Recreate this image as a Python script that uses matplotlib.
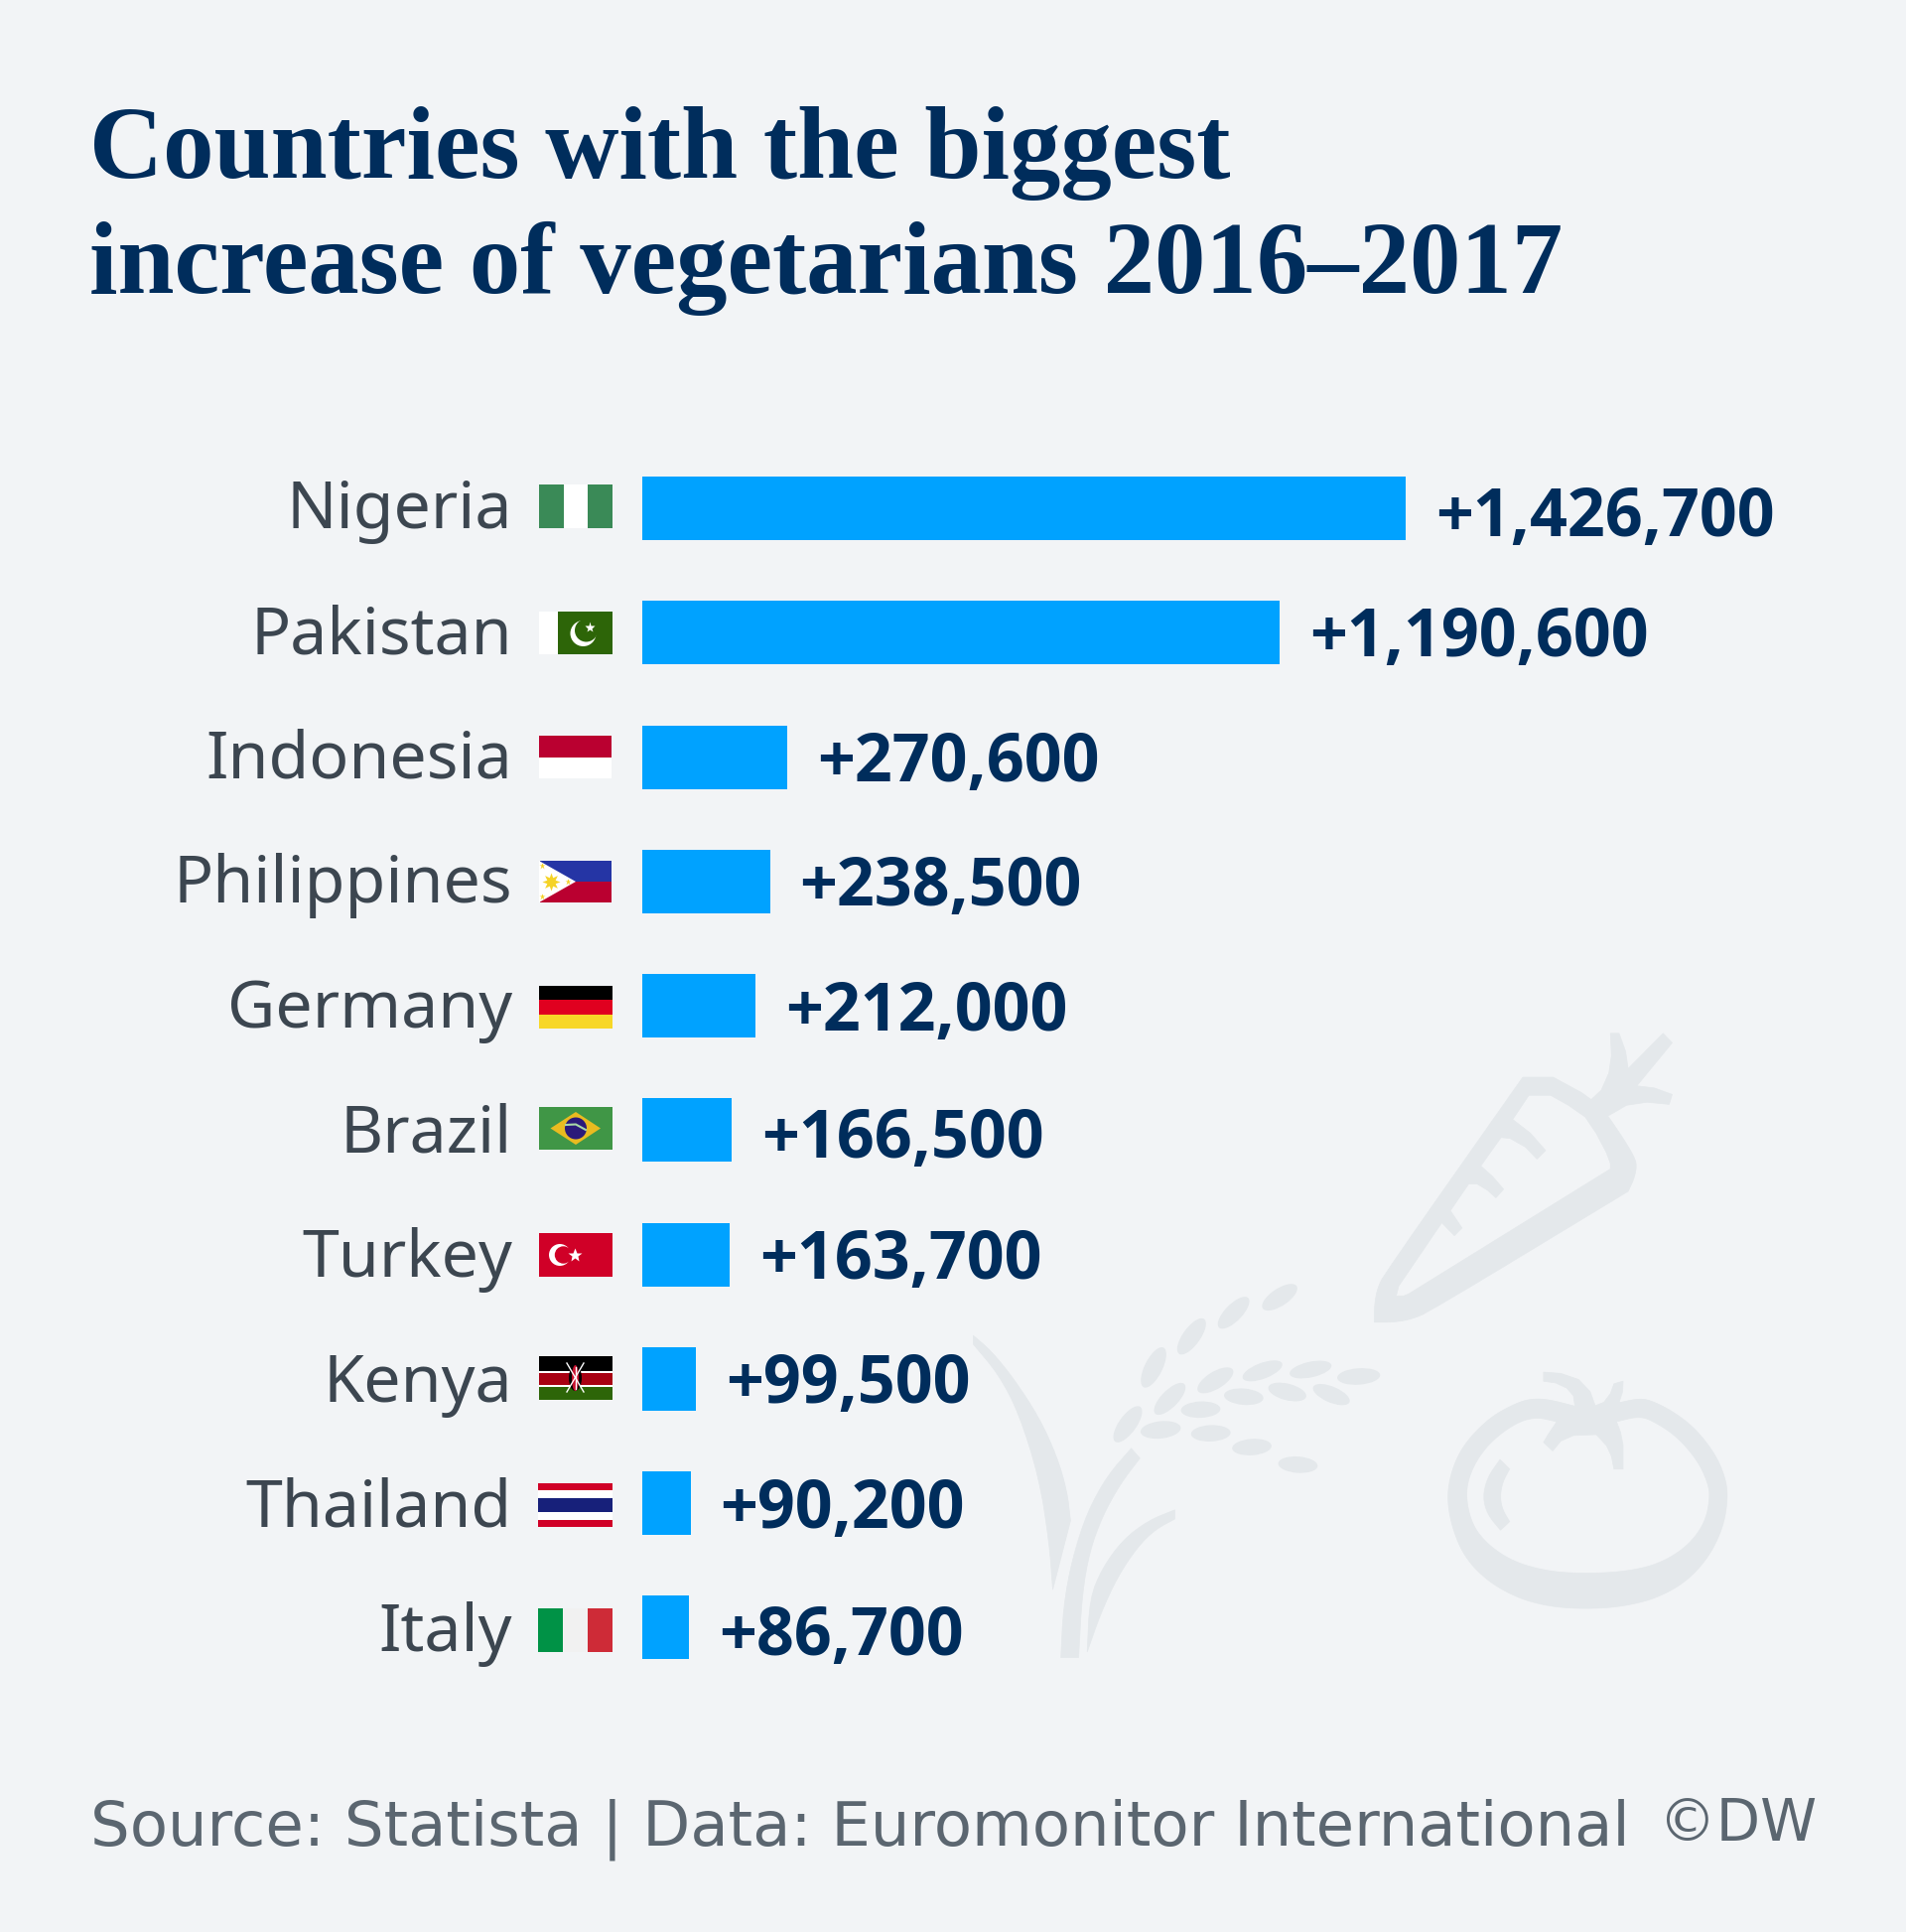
import matplotlib
matplotlib.use("Agg")
import matplotlib.pyplot as plt
from matplotlib.patches import Circle, Ellipse, PathPatch, Polygon, Rectangle
from matplotlib.path import Path
from matplotlib.transforms import Affine2D

countries = ["Nigeria", "Pakistan", "Indonesia", "Philippines", "Germany",
             "Brazil", "Turkey", "Kenya", "Thailand", "Italy"]
increase = [1426700, 1190600, 270600, 238500, 212000,
            166500, 163700, 99500, 90200, 86700]
flag_tops = [488, 616, 741, 867, 993, 1115, 1242, 1366, 1494, 1620]
# the value labels do not sit evenly against the bars in the original
value_drop = [27.5, 24, 24, 24, 25, 27.5, 24, 24, 25, 27.5]

title_lines = ["Countries with the biggest", "increase of vegetarians 2016–2017"]
source = "Source: Statista | Data: Euromonitor International"

BG = "#f2f4f6"
BAR = "#00a2ff"
NAVY = "#002d5c"
LABEL = "#3c4650"
GREY = "#5b6670"
ICON = "#e4e8eb"

W, H = 1920, 1946
fig = plt.figure(figsize=(W / 100, H / 100), dpi=100, facecolor=BG)

# full figure axes in pixels, for the title, flags and the background icons
bg = fig.add_axes([0, 0, 1, 1], zorder=0)
bg.set_xlim(0, W)
bg.set_ylim(H, 0)
bg.axis("off")

icon_tf = Affine2D().scale(1 / 1.96, 1 / 2.306).translate(960, 1020) + bg.transData


def compound(outer, *holes):
    verts, codes = [], []
    for ring in [outer] + [h[::-1] for h in holes]:
        verts += ring + [ring[0]]
        codes += [Path.MOVETO] + [Path.LINETO] * (len(ring) - 1) + [Path.CLOSEPOLY]
    bg.add_patch(PathPatch(Path(verts, codes), fc=ICON, ec=ICON, lw=0.5, transform=icon_tf))


def soft(pts, passes=3):
    # corner cutting for the traced curves, the two end points stay put
    for _ in range(passes):
        out = [pts[0]]
        for (x0, y0), (x1, y1) in zip(pts[:-1], pts[1:]):
            out.append((0.75 * x0 + 0.25 * x1, 0.75 * y0 + 0.25 * y1))
            out.append((0.25 * x0 + 0.75 * x1, 0.25 * y0 + 0.75 * y1))
        out.append(pts[-1])
        pts = out
    return pts


carrot_out = [(1125, 150), (1185, 150), (1240, 185), (1260, 202), (1280, 180), (1295, 140), (1300, 100),
              (1298, 48), (1315, 48), (1328, 90), (1333, 130), (1402, 48), (1420, 70), (1350, 170),
              (1385, 175), (1420, 190), (1414, 213), (1370, 208), (1330, 215), (1293, 240)]
carrot_out += soft([(1293, 240), (1325, 295), (1345, 335), (1350, 355), (1345, 385), (1333, 415)], 2)
carrot_out += soft([(1333, 415), (940, 695), (905, 712), (870, 719), (832, 719)], 2)
carrot_out += soft([(832, 719), (832, 680), (838, 640), (853, 605), (1125, 150)], 2)
carrot_in = [(1137, 192), (1180, 192), (1215, 215), (1248, 242), (1270, 280), (1290, 325), (1298, 350),
             (1298, 363), (900, 653), (890, 658), (875, 658), (880, 635), (965, 488), (990, 518),
             (1005, 500), (982, 460), (1018, 398), (1035, 398), (1055, 412), (1072, 430), (1087, 410),
             (1065, 380), (1042, 356), (1082, 290), (1100, 292), (1130, 312), (1153, 340), (1170, 320),
             (1140, 280), (1105, 248)]
compound(carrot_out, carrot_in)

tomato_top = [(1228, 914), (1225, 890), (1212, 872), (1190, 860), (1166, 856),
              (1166, 835), (1200, 838), (1235, 852), (1258, 880), (1268, 913), (1285, 905), (1298, 885),
              (1305, 862), (1323, 856), (1322, 880), (1315, 906)]
tomato_body = [(1315, 906), (1350, 897), (1375, 899), (1420, 925),
               (1465, 965), (1505, 1025), (1525, 1080), (1530, 1125), (1522, 1190), (1495, 1260),
               (1450, 1320), (1390, 1360), (1320, 1380), (1250, 1385), (1180, 1380), (1115, 1360),
               (1055, 1320), (1010, 1265), (985, 1195), (975, 1125), (985, 1060), (1010, 1000),
               (1060, 940), (1110, 908), (1140, 897), (1175, 898), (1228, 914)]
tomato_in_top = [(1192, 950), (1175, 980), (1166, 998), (1184, 1018), (1200, 995), (1225, 982),
                 (1270, 980), (1290, 1005), (1300, 1030), (1305, 1060), (1323, 1060), (1323, 1005),
                 (1318, 975), (1310, 950)]
tomato_in_body = [(1310, 950), (1355, 937), (1385, 950), (1430, 985), (1470, 1040), (1490, 1090),
                  (1495, 1125), (1485, 1185), (1450, 1240), (1395, 1280), (1330, 1298), (1250, 1303),
                  (1175, 1298), (1105, 1275), (1055, 1235), (1025, 1190), (1012, 1125), (1020, 1070),
                  (1050, 1010), (1100, 960), (1147, 938), (1192, 950)]
compound(tomato_top + soft(tomato_body), tomato_in_top + soft(tomato_in_body))
compound(soft([(1081, 1202), (1055, 1165), (1046, 1125), (1055, 1080), (1080, 1038)], 2)
         + soft([(1099, 1060), (1085, 1090), (1080, 1125), (1085, 1155), (1099, 1182)], 2))

# rice plant
compound(soft([(40, 750), (75, 785), (120, 850), (170, 940), (205, 1030), (225, 1110), (232, 1180)], 2)
         + soft([(197, 1340), (190, 1230), (170, 1080), (130, 930), (90, 840), (40, 770)], 2))
compound(soft([(352, 1012), (305, 1075), (265, 1160), (235, 1270), (218, 1380), (213, 1498)], 2)
         + soft([(248, 1498), (255, 1350), (270, 1250), (295, 1170), (330, 1095), (369, 1035)], 2))
compound(soft([(438, 1155), (385, 1180), (335, 1225), (295, 1290), (270, 1360), (265, 1485)], 2)
         + soft([(265, 1485), (290, 1400), (325, 1310), (365, 1240), (400, 1200), (438, 1176)], 2))
grains = [(645, 661, 85, 38, -40), (554, 697, 90, 36, -52), (471, 752, 95, 36, -60), (396, 824, 100, 36, -68),
          (428, 897, 90, 36, -52), (345, 956, 95, 36, -60), (518, 854, 85, 38, -38), (611, 832, 85, 36, -25),
          (706, 829, 85, 36, -15), (801, 845, 85, 38, -5), (747, 887, 80, 36, 28), (660, 881, 78, 38, 18),
          (574, 892, 78, 38, 6), (489, 922, 78, 38, -3), (410, 969, 80, 40, -8), (509, 977, 78, 38, -3),
          (590, 1009, 78, 38, -5), (681, 1050, 78, 38, 5)]
for cx, cy, length, thick, angle in grains:
    bg.add_patch(Ellipse((cx, cy), length, thick, angle=angle, fc=ICON, ec="none", transform=icon_tf))


def stripes(top, colors, vertical=False, left=543, w=74, h=44):
    # equal bands, across or down the flag
    n = len(colors)
    for k, c in enumerate(colors):
        if vertical:
            bg.add_patch(Rectangle((left + k * w / n, top), w / n, h, fc=c, ec="none"))
        else:
            bg.add_patch(Rectangle((left, top + k * h / n), w, h / n, fc=c, ec="none"))


def star(x, y, size, color="white"):
    bg.plot([x], [y], marker="*", ms=size, color=color, mec="none", ls="none")


tops = dict(zip(countries, flag_tops))
stripes(tops["Nigeria"], ["#3a8a57", "#ffffff", "#3a8a57"], vertical=True)

t = tops["Pakistan"]
bg.add_patch(Rectangle((543, t), 18.5, 43, fc="white", ec="none"))
bg.add_patch(Rectangle((561.5, t), 55.5, 43, fc="#2d6508", ec="none"))
bg.add_patch(Circle((587.5, t + 22), 13, fc="white", ec="none"))
bg.add_patch(Circle((590.5, t + 19), 11.5, fc="#2d6508", ec="none"))
star(594, t + 16, 8)

stripes(tops["Indonesia"], ["#ba0030", "#ffffff"], w=73, h=43)

t = tops["Philippines"]
stripes(t, ["#2535a5", "#ba0030"], left=544, w=72, h=42)
bg.add_patch(Polygon([(543, t), (580, t + 21), (543, t + 42)], fc="white", ec="none"))
bg.plot([555], [t + 21], marker=(8, 1, 0), ms=13, color="#f5d327", mec="none", ls="none")
for sx, sy in [(546, t + 5), (546, t + 36), (572, t + 21)]:
    star(sx, sy, 5, "#f5d327")

stripes(tops["Germany"], ["#000000", "#e0001f", "#f7d727"], h=43)

t = tops["Brazil"]
bg.add_patch(Rectangle((543, t), 74, 43, fc="#409646", ec="none"))
bg.add_patch(Polygon([(554.5, t + 21.5), (580, t + 5), (605, t + 21.5), (580, t + 38)], fc="#e9bb20", ec="none"))
bg.add_patch(Circle((580, t + 21.5), 11, fc="#2a1a7a", ec="none"))
bg.plot([570, 580, 590], [t + 18, t + 17.5, t + 23], color="#a8d8a8", lw=1.5)

t = tops["Turkey"]
bg.add_patch(Rectangle((543, t), 74, 43.5, fc="#d00027", ec="none"))
bg.add_patch(Circle((564, t + 22), 11, fc="white", ec="none"))
bg.add_patch(Circle((567.5, t + 22), 8.7, fc="#d00027", ec="none"))
star(578.5, t + 22, 10)

t = tops["Kenya"]
bg.add_patch(Rectangle((543, t), 74, 15, fc="#000000", ec="none"))
bg.add_patch(Rectangle((543, t + 15), 74, 1.5, fc="white", ec="none"))
bg.add_patch(Rectangle((543, t + 16.5), 74, 12.5, fc="#a80012", ec="none"))
bg.add_patch(Rectangle((543, t + 29), 74, 1.5, fc="white", ec="none"))
bg.add_patch(Rectangle((543, t + 30.5), 74, 13.5, fc="#2d6508", ec="none"))
bg.plot([571, 588], [t + 7, t + 36], color="white", lw=1)
bg.plot([588, 571], [t + 7, t + 36], color="white", lw=1)
bg.add_patch(Ellipse((579.5, t + 22), 13, 26, fc="#000000", ec="none"))
bg.add_patch(Ellipse((579.5, t + 22), 7, 26, fc="#c8102e", ec="none"))
bg.plot([579.5, 579.5], [t + 11, t + 33], color="white", lw=1)

t = tops["Thailand"]
for y0, hh, c in [(0, 7, "#d00027"), (7, 7.5, "white"), (14.5, 14.5, "#17207a"), (29, 7.5, "white"), (36.5, 7.5, "#d00027")]:
    bg.add_patch(Rectangle((542, t + y0), 75, hh, fc=c, ec="none"))

stripes(tops["Italy"], ["#009246", "#f1f1f1", "#ce2b37"], vertical=True, left=542, w=75)

# title and footer
bg.text(90, 179, title_lines[0], fontsize=74, family="Liberation Serif", weight="bold", color=NAVY, va="baseline")
bg.text(90, 295, title_lines[1], fontsize=74, family="Liberation Serif", weight="bold", color=NAVY, va="baseline")
bg.text(91, 1858, source, fontsize=45, family="DejaVu Sans", color=GREY, va="baseline")
bg.text(1671, 1854, "©DW", fontsize=41.5, family="DejaVu Sans", color=GREY, va="baseline")

# bars on their own data scale
ax = fig.add_axes([647 / W, 1 - 1702 / H, (1416 - 647) / W, (1702 - 449.5) / H], zorder=1)
ax.patch.set_visible(False)
ax.barh(range(len(countries)), increase, height=0.51, color=BAR)
ax.set_xlim(0, max(increase))
ax.set_ylim(len(countries) - 0.5, -0.5)
ax.axis("off")

for i, (name, val) in enumerate(zip(countries, increase)):
    ax.annotate(name, (0, i), xytext=(-131, -(20.3 + 0.4 * i)), textcoords="offset pixels", ha="right", va="baseline",
                fontsize=47.8, family="Noto Sans", color=LABEL, annotation_clip=False)
    ax.annotate(f"+{val:,}", (val, i), xytext=(30, -value_drop[i]), textcoords="offset pixels", ha="left", va="baseline",
                fontsize=47.8, family="Open Sans", weight="bold", color=NAVY, annotation_clip=False)

fig.savefig("out.png", facecolor=BG)
